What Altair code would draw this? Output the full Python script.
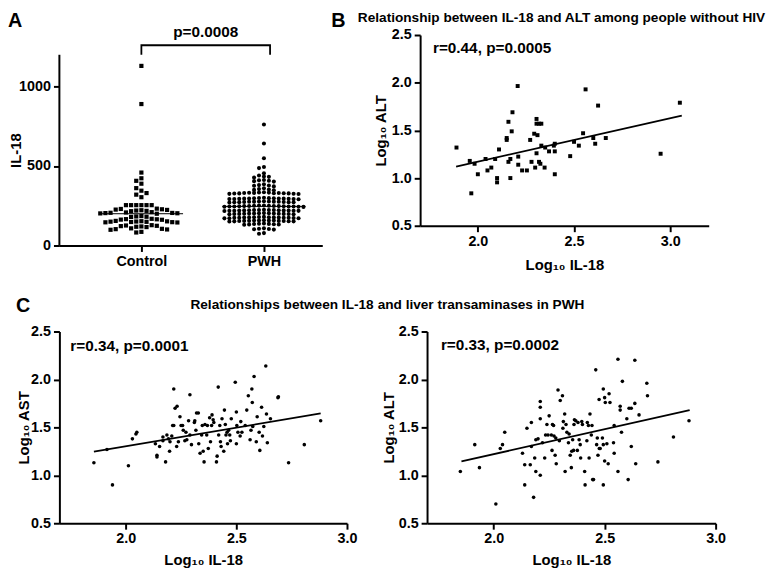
import altair as alt
import pandas as pd

FONT = "Liberation Sans"

# ---------------- Panel A : IL-18 by group ----------------
control_il18 = [1130, 890, 459, 423, 407, 389, 361, 345, 330, 320, 304,
                254, 254, 254, 254, 254, 254,
                232, 230, 228, 226, 224, 222, 220, 218, 216,
                210, 208, 206, 205, 204, 203, 202, 200,
                185, 183, 181, 180,
                168, 166, 165, 163, 162,
                155, 153, 152, 151, 150, 149, 148, 147, 146, 145,
                128, 126, 124, 122, 120, 118, 116,
                108, 105, 103, 101, 99,
                86, 82]
pwh_il18 = [761, 642, 549, 494, 487,
            454, 440, 434, 432, 428, 412, 410, 408, 405, 402, 385, 380, 378, 376, 372,
            360, 355, 352, 350, 348,
            335, 334, 333, 332, 331, 330, 330, 329, 329, 328, 328, 327, 326, 325, 324,
            300, 299, 298, 297, 297, 296, 296, 295, 295, 294, 294, 293, 292, 292, 291,
            278, 277, 277, 276, 276, 275, 275, 274, 274, 273, 273, 272, 272, 271,
            252, 251, 250, 250, 249, 249, 248, 248, 247, 247, 246, 246, 245, 245, 244, 244, 243,
            225, 224, 224, 223, 223, 222, 222, 221, 221, 220, 220, 219, 219, 218, 218, 217,
            204, 203, 203, 202, 202, 201, 200, 200, 199, 199, 198, 198, 197, 196,
            180, 179, 178, 178, 177, 177, 176, 176, 175, 175, 174, 174, 173, 172, 172, 171,
            159, 158, 158, 157, 157, 156, 155, 155, 154, 154, 153, 152, 152, 151,
            138, 137, 136, 135, 134, 133, 132, 131,
            108, 106, 104, 102, 100,
            78, 74]
group_names = ["Control", "PWH"]
a_axis_top = 1200
p_label = "p=0.0008"
bracket_x = [0.0, 0.0, 1.05, 1.05]
bracket_y = [1200, 1260, 1260, 1200]
p_x, p_y = 0.525, 1346

# ---------------- Panel B : people without HIV ----------------
b_il18 = [1.889, 1.958, 1.983, 2.00, 1.966, 2.04, 2.05, 2.07, 2.09, 2.10, 2.10, 2.11,
          2.15, 2.15, 2.159, 2.176, 2.18, 2.159, 2.169, 2.169, 2.207, 2.21, 2.21, 2.23,
          2.255, 2.272, 2.279, 2.293, 2.31, 2.305, 2.305, 2.318, 2.33, 2.305, 2.298, 2.318,
          2.325, 2.347, 2.33, 2.35, 2.37, 2.395, 2.40, 2.40, 2.40, 2.48, 2.50, 2.525,
          2.547, 2.56, 2.60, 2.61, 2.625, 2.665, 2.95, 3.05]
b_alt = [1.32, 1.18, 1.15, 1.04, 0.84, 1.20, 1.08, 1.11, 1.20, 1.00, 0.955, 1.30,
         1.40, 1.42, 1.59, 1.49, 1.69, 1.17, 1.20, 1.00, 1.965, 1.225, 1.14, 1.08,
         1.08, 1.40, 1.17, 1.465, 1.45, 1.62, 1.57, 1.57, 1.57, 1.26, 1.11, 1.17,
         1.15, 1.11, 1.34, 1.32, 1.28, 1.34, 1.36, 1.28, 1.04, 1.23, 1.38, 1.34,
         1.47, 1.93, 1.42, 1.36, 1.76, 1.42, 1.255, 1.79]
b_fit_x = [1.887, 3.06]
b_fit_y = [1.12, 1.655]
b_stat = "r=0.44, p=0.0005"

# ---------------- Panel C : PWH, AST ----------------
c_ast_il18 = [1.856, 1.915, 1.94, 2.012, 2.03, 2.046, 2.05, 2.134, 2.141, 2.141, 2.153, 2.168,
              2.168, 2.18, 2.186, 2.193, 2.198, 2.20, 2.208, 2.212, 2.217, 2.217, 2.223, 2.232,
              2.23, 2.238, 2.245, 2.25, 2.257, 2.26, 2.267, 2.272, 2.276, 2.284, 2.29, 2.29,
              2.297, 2.31, 2.312, 2.317, 2.32, 2.328, 2.33, 2.336, 2.343, 2.346, 2.35, 2.354,
              2.358, 2.366, 2.369, 2.373, 2.379, 2.383, 2.388, 2.39, 2.395, 2.398, 2.41, 2.413,
              2.418, 2.42, 2.425, 2.428, 2.431, 2.435, 2.443, 2.446, 2.45, 2.453, 2.458, 2.46,
              2.465, 2.47, 2.473, 2.477, 2.495, 2.50, 2.50, 2.502, 2.507, 2.517, 2.52, 2.525,
              2.54, 2.547, 2.554, 2.562, 2.566, 2.57, 2.572, 2.574, 2.58, 2.59, 2.594, 2.603,
              2.606, 2.614, 2.618, 2.624, 2.633, 2.636, 2.64, 2.654, 2.688, 2.69, 2.736, 2.807,
              2.881]
c_ast = [1.13, 1.27, 0.90, 1.10, 1.38, 1.43, 1.45, 1.33, 1.21, 1.19, 1.30, 1.36,
         1.40, 1.14, 1.42, 1.38, 1.25, 1.35, 1.41, 1.52, 1.52, 1.90, 1.70, 1.72,
         1.30, 1.35, 1.61, 1.52, 1.52, 1.47, 1.36, 1.45, 1.37, 1.57, 1.84, 1.42,
         1.32, 1.55, 1.57, 1.47, 1.65, 1.65, 1.33, 1.23, 1.42, 1.52, 1.25, 1.14,
         1.53, 1.42, 1.52, 1.28, 1.60, 1.35, 1.52, 1.63, 1.58, 1.55, 1.14, 1.20,
         1.92, 1.42, 1.52, 1.35, 1.30, 1.59, 1.25, 1.68, 1.53, 1.42, 1.45, 1.33,
         1.47, 1.42, 1.36, 1.59, 1.97, 1.66, 1.33, 1.52, 1.45, 1.41, 1.56, 1.45,
         1.52, 1.68, 1.83, 1.37, 1.47, 1.90, 1.76, 1.51, 2.03, 1.35, 1.61, 1.45,
         1.26, 1.71, 1.41, 1.51, 2.14, 1.64, 1.34, 1.59, 1.81, 1.82, 1.13, 1.32,
         1.57]
c_ast_fit_x = [1.856, 2.881]
c_ast_fit_y = [1.248, 1.645]
c_ast_stat = "r=0.34, p=0.0001"

# ---------------- Panel C : PWH, ALT ----------------
c_alt_il18 = [1.85, 1.915, 1.936, 2.01, 2.03, 2.04, 2.05, 2.13, 2.14, 2.14, 2.15, 2.165,
              2.17, 2.17, 2.18, 2.185, 2.19, 2.19, 2.20, 2.21, 2.21, 2.21, 2.21, 2.22,
              2.23, 2.234, 2.24, 2.245, 2.25, 2.26, 2.263, 2.265, 2.27, 2.272, 2.277, 2.28,
              2.282, 2.29, 2.296, 2.30, 2.31, 2.312, 2.314, 2.32, 2.322, 2.326, 2.33, 2.337,
              2.34, 2.345, 2.35, 2.352, 2.356, 2.36, 2.362, 2.364, 2.37, 2.377, 2.38, 2.385,
              2.39, 2.392, 2.397, 2.40, 2.41, 2.412, 2.42, 2.422, 2.427, 2.43, 2.434, 2.44,
              2.443, 2.446, 2.45, 2.46, 2.464, 2.467, 2.47, 2.475, 2.476, 2.48, 2.49, 2.494,
              2.494, 2.50, 2.50, 2.503, 2.494, 2.51, 2.516, 2.52, 2.524, 2.54, 2.543, 2.543,
              2.56, 2.56, 2.57, 2.57, 2.576, 2.58, 2.60, 2.606, 2.61, 2.62, 2.62, 2.636,
              2.636, 2.64, 2.655, 2.69, 2.693, 2.74, 2.81, 2.88]
c_alt = [1.04, 1.32, 1.08, 0.70, 1.28, 1.32, 1.45, 1.23, 0.90, 1.11, 1.49, 1.11,
         1.55, 1.30, 0.77, 1.18, 1.04, 1.37, 1.38, 1.00, 1.77, 1.71, 1.59, 1.34,
         1.18, 1.42, 1.53, 1.42, 1.62, 1.42, 1.26, 1.53, 1.52, 1.41, 1.21, 1.39,
         1.12, 1.89, 1.36, 1.78, 1.83, 1.49, 1.56, 1.64, 1.04, 1.53, 1.45, 1.34,
         1.43, 1.21, 1.08, 1.25, 1.37, 1.26, 1.53, 1.58, 1.57, 1.26, 1.55, 1.37,
         1.32, 1.18, 1.56, 1.53, 1.04, 0.90, 1.36, 1.55, 1.52, 1.18, 1.64, 1.42,
         1.52, 0.955, 0.955, 2.10, 1.32, 1.39, 1.21, 1.79, 1.28, 1.28, 1.39, 1.32,
         1.90, 1.81, 1.15, 1.76, 0.90, 1.33, 1.12, 1.85, 1.76, 1.34, 1.23, 1.52,
         2.21, 1.04, 1.68, 1.72, 1.45, 1.98, 1.59, 0.955, 1.70, 1.70, 1.30, 2.20,
         1.75, 1.12, 1.63, 1.96, 1.83, 1.14, 1.40, 1.57]
c_alt_fit_x = [1.855, 2.883]
c_alt_fit_y = [1.145, 1.68]
c_alt_stat = "r=0.33, p=0.0002"

title_b = "Relationship between IL-18 and ALT among people without HIV"
title_c_left = "Relationships between IL-18"
title_c_right = "and liver transaminases in PWH"

# ---------------- layout constants ----------------
A_W = 266
A_AXIS_H = 193          # height of the drawn y axis (0 .. 1200)
A_EXTRA = 20            # panel A plot starts 20px below panel B's top
A_H = A_AXIS_H + A_EXTRA
A_XDOM = [-0.669, 1.476]
A_YDOM = [0, a_axis_top * A_H / A_AXIS_H]


def swarm(vals, pitch_px, y_px_per_unit, row_gap_px):
    """Deterministic beeswarm: offsets in px so markers in a row do not overlap."""
    order = sorted(range(len(vals)), key=lambda i: -vals[i])
    placed = []
    offs = [0.0] * len(vals)
    for i in order:
        y = vals[i] * y_px_per_unit
        near = [px for (px, py) in placed if abs(py - y) < row_gap_px]
        cands = [0.0] + [p + s * pitch_px for p in near for s in (-1, 1)]
        cands.sort(key=lambda c: (abs(c), c))
        for c in cands:
            if all(abs(c - p) >= pitch_px - 1e-9 for p in near):
                offs[i] = c
                break
        placed.append((offs[i], y))
    return offs


x_px = A_W / (A_XDOM[1] - A_XDOM[0])
y_px = A_H / (A_YDOM[1] - A_YDOM[0])
rows = []
for gi, (vals, pitch, gap) in enumerate([(control_il18, 5.2, 5.0), (pwh_il18, 5.0, 3.0)]):
    offs = swarm(vals, pitch, y_px, gap)
    for v, o in zip(vals, offs):
        rows.append({"g": gi, "grp": group_names[gi], "v": v, "pos": gi + o / x_px})
df_a = pd.DataFrame(rows)


def ax_a(field):
    return alt.X(field, type="quantitative",
                 scale=alt.Scale(domain=A_XDOM, nice=False, zero=False),
                 axis=alt.Axis(values=[0, 1], title=None,
                               labelExpr="datum.value == 0 ? 'Control' : 'PWH'"))


def ay_a(field):
    return alt.Y(field, type="quantitative",
                 scale=alt.Scale(domain=A_YDOM, nice=False, zero=False),
                 axis=alt.Axis(values=[0, 500, 1000], format="d", domain=False,
                               title="IL-18", titleX=-44, titleY=A_EXTRA + A_AXIS_H / 2,
                               titleBaseline="middle", titleAlign="center"))


def txt(text, x, y, size, align="left", baseline="middle"):
    return alt.Chart(pd.DataFrame({"d": [0]})).mark_text(
        text=text, align=align, baseline=baseline, font=FONT, fontWeight="bold",
        fontSize=size, color="black").encode(x=alt.value(x), y=alt.value(y))


def frame(x1, y1, x2, y2):
    return alt.Chart(pd.DataFrame({"d": [0]})).mark_rect(opacity=0).encode(
        x=alt.value(x1), x2=alt.value(x2), y=alt.value(y1), y2=alt.value(y2))


ctrl = alt.Chart(df_a).transform_filter("datum.g == 0").mark_square(
    size=18, color="black", opacity=1).encode(x=ax_a("pos"), y=ay_a("v"))
pwh = alt.Chart(df_a).transform_filter("datum.g == 1").mark_circle(
    size=17, color="black", opacity=1).encode(x=ax_a("pos"), y=ay_a("v"))
med = alt.Chart(df_a).transform_aggregate(
    m="median(v)", groupby=["g"]).transform_calculate(
    x1="datum.g - 0.34", x2="datum.g + 0.34").mark_rule(
    color="black", strokeWidth=1).encode(x=ax_a("x1"), x2="x2:Q", y=ay_a("m"))
df_br = pd.DataFrame({"bx": bracket_x, "by": bracket_y, "o": list(range(len(bracket_x)))})
bracket = alt.Chart(df_br).mark_line(color="black", strokeWidth=1.8).encode(
    x=ax_a("bx"), y=ay_a("by"), order="o:Q")
ptxt = alt.Chart(pd.DataFrame({"x": [p_x], "y": [p_y], "t": [p_label]})).mark_text(
    font=FONT, fontWeight="bold", fontSize=15.5, color="black").encode(
    x=ax_a("x"), y=ay_a("y"), text="t:N")
yline = alt.Chart(pd.DataFrame({"lo": [0], "hi": [a_axis_top]})).mark_rule(
    color="black", strokeWidth=2).encode(x=alt.value(0), y=ay_a("lo"), y2="hi:Q")

panel_a = alt.layer(
    frame(-52, -24, 270, 248),
    yline, ctrl, pwh, med, bracket, ptxt,
    txt("A", -52, -24, 20, baseline="top"),
).properties(width=A_W, height=A_H)


def scatter_panel(xs, ys, fx, fy, stat, w, h, xdom, xticks, ytitle, ytitle_x, xtitle_y,
                  shape, size, stat_xy, extras):
    df = pd.DataFrame({"x": xs, "y": ys})
    dfit = pd.DataFrame({"x": fx, "y": fy})
    X = alt.X("x:Q", scale=alt.Scale(domain=xdom, nice=False, zero=False),
              axis=alt.Axis(values=xticks, format=".1f", title="Log₁₀ IL-18",
                            titleY=xtitle_y, titleBaseline="middle"))
    Y = alt.Y("y:Q", scale=alt.Scale(domain=[0.5, 2.5], nice=False, zero=False),
              axis=alt.Axis(values=[0.5, 1.0, 1.5, 2.0, 2.5], format=".1f", title=ytitle,
                            titleX=ytitle_x, titleBaseline="middle", titleAlign="center"))
    if shape == "square":
        pts = alt.Chart(df).mark_square(size=size, color="black", opacity=1)
    else:
        pts = alt.Chart(df).mark_circle(size=size, color="black", opacity=1)
    pts = pts.encode(x=X, y=Y)
    fit = alt.Chart(dfit).mark_line(color="black", strokeWidth=1.8).encode(x=X, y=Y)
    return alt.layer(*extras, pts, fit,
                     txt(stat, stat_xy[0], stat_xy[1], 15.5)).properties(width=w, height=h)


panel_b = scatter_panel(
    b_il18, b_alt, b_fit_x, b_fit_y, b_stat, 292, 193, [1.7, 3.2], [2.0, 2.5, 3.0],
    "Log₁₀ ALT", -40, 39, "square", 16, (13, 13),
    [frame(-95, -24, 345, 248), txt("B", -90, -24, 20, baseline="top"),
     txt(title_b, -63, -17, 13.8)])

panel_c1 = scatter_panel(
    c_ast_il18, c_ast, c_ast_fit_x, c_ast_fit_y, c_ast_stat, 291, 194, [1.7, 3.0],
    [2.0, 2.5, 3.0], "Log₁₀ AST", -36, 37, "circle", 13, (11, 15),
    [frame(-44, -52, 320, 238), txt("C", -44, -36, 20, baseline="top"),
     txt(title_c_left, 318, -27, 13.8, align="right")])

panel_c2 = scatter_panel(
    c_alt_il18, c_alt, c_alt_fit_x, c_alt_fit_y, c_alt_stat, 292, 194, [1.7, 3.0],
    [2.0, 2.5, 3.0], "Log₁₀ ALT", -39, 37, "circle", 13, (14, 14),
    [frame(-52, -52, 346, 238), txt(title_c_right, -50, -27, 13.8)])

row1 = alt.hconcat(panel_a, panel_b, spacing=0)
row2 = alt.hconcat(panel_c1, panel_c2, spacing=0)

chart = alt.vconcat(row1, row2, spacing=0).properties(
    padding=0, background="white"
).configure_view(stroke=None).configure_axis(
    domainColor="black", domainWidth=2, tickColor="black", tickWidth=2, tickSize=6,
    labelPadding=3, labelFont=FONT, labelFontSize=14.5, labelFontWeight="bold",
    labelColor="black", titleFont=FONT, titleFontSize=15, titleFontWeight="bold",
    titleColor="black", grid=False, labelFlush=False, labelOverlap=False
)

chart.save("out.html", embed_options={"renderer": "svg", "actions": False})
